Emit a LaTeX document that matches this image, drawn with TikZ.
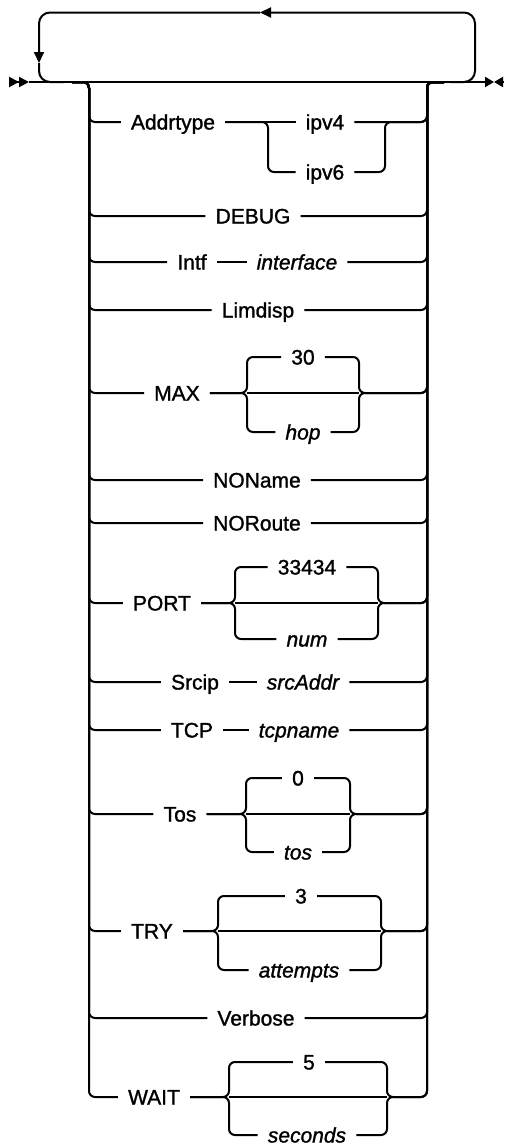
\documentclass[tikz,border=0pt]{standalone}
\usepackage{fontspec}
\setmainfont{Liberation Sans}[FakeBold=1.3]
\usepackage{tikz}
\usetikzlibrary{arrows.meta, positioning}

\begin{document}
\begin{tikzpicture}[
    x=1pt, y=-1pt,
    kw/.style={inner xsep=10pt, inner ysep=0pt, text height=15pt,
               text depth=0pt, font=\fontsize{21}{25}\selectfont},
    var/.style={kw, font=\fontsize{21}{25}\selectfont\itshape},
    line/.style={draw, line width=2pt, rounded corners=6pt},
    rail/.style={draw, line width=2.8pt},
    loopline/.style={line, rounded corners=11pt},
    tip/.style={-{Triangle[length=11pt, width=10pt]}},
    endtip/.style={-{Triangle[length=9pt, width=10pt]}},
    starttip/.style={-{Triangle[length=10pt, width=10pt]Triangle[length=10pt, width=10pt]}}
]
    \useasboundingbox (0,0) rectangle (505,1146);

    % main line with start and end marks
    \coordinate (start) at (9,82);
    \coordinate (s1)    at (29,82);
    \coordinate (eend)  at (494,82);
    \coordinate (eR)    at (503,82);
    \draw[line, starttip] (start) -- (s1);
    \draw[line, endtip] (s1) -- (eend);
    \draw[line, endtip] (eR) -- (eend);

    % repeat loop
    \coordinate (lpin)  at (450,82);
    \coordinate (lpR)   at (475,82);
    \coordinate (lptop) at (260,12.5);
    \coordinate (lptip) at (39,63);
    \coordinate (lpout) at (64,82);
    \draw[loopline, tip] (lpin) -- (lpR) |- (lptop);
    \draw[loopline, tip] (lptop) -| (lptip);
    \draw[loopline] (lptip) |- (lpout);

    % rails
    \coordinate (inL)   at (72,82);
    \coordinate (lrail) at (89,82);
    \coordinate (rrail) at (427,82);
    \coordinate (outR)  at (444,82);

    % Addrtype
    \node[kw] (addr) at (173,122) {Addrtype};
    \node[kw] (ipv4) at (325,122) {ipv4};
    \node[kw] (ipv6) at (325,172) {ipv6};
    \coordinate (addrL) at (268,122);
    \coordinate (addrR) at (385,122);
    \draw[line] (inL) -- (lrail) |- (addr);
    \draw[line] (addr) -- (ipv4);
    \draw[line] (addr) -- (addrL) |- (ipv6);
    \draw[line] (ipv4) -| (rrail) -- (outR);
    \draw[line] (ipv6) -| (addrR) -| (rrail) -- (outR);

    % DEBUG
    \node[kw] (debug) at (253,216) {DEBUG};
    \draw[line] (inL) -- (lrail) |- (debug);
    \draw[line] (debug) -| (rrail) -- (outR);

    % Intf
    \node[kw]  (intf)  at (192,262) {Intf};
    \node[var] (intfa) at (297,262) {interface};
    \draw[line] (inL) -- (lrail) |- (intf);
    \draw[line] (intf) -- (intfa);
    \draw[line] (intfa) -| (rrail) -- (outR);

    % Limdisp
    \node[kw] (limdisp) at (258,310) {Limdisp};
    \draw[line] (inL) -- (lrail) |- (limdisp);
    \draw[line] (limdisp) -| (rrail) -- (outR);

    % MAX
    \node[kw]  (max)  at (177,393) {MAX};
    \node[kw]  (maxd) at (303,357) {30};
    \node[var] (maxh) at (303,432) {hop};
    \coordinate (maxL) at (247,393);
    \coordinate (maxR) at (359,393);
    \draw[line] (inL) -- (lrail) |- (max);
    \draw[line] (max) -- (maxL) |- (maxd);
    \draw[line] (max) -- (maxL) |- (maxh);
    \draw[line] (maxL) -- (maxR);
    \draw[line] (maxd) -| (maxR) -| (rrail) -- (outR);
    \draw[line] (maxh) -| (maxR) -| (rrail) -- (outR);

    % NOName
    \node[kw] (noname) at (257,480) {NOName};
    \draw[line] (inL) -- (lrail) |- (noname);
    \draw[line] (noname) -| (rrail) -- (outR);

    % NORoute
    \node[kw] (noroute) at (257,523) {NORoute};
    \draw[line] (inL) -- (lrail) |- (noroute);
    \draw[line] (noroute) -| (rrail) -- (outR);

    % PORT
    \node[kw]  (port)  at (162,603) {PORT};
    \node[kw]  (portd) at (307,567) {33434};
    \node[var] (portn) at (307,639) {num};
    \coordinate (portL) at (235,603);
    \coordinate (portR) at (378,603);
    \draw[line] (inL) -- (lrail) |- (port);
    \draw[line] (port) -- (portL) |- (portd);
    \draw[line] (port) -- (portL) |- (portn);
    \draw[line] (portL) -- (portR);
    \draw[line] (portd) -| (portR) -| (rrail) -- (outR);
    \draw[line] (portn) -| (portR) -| (rrail) -- (outR);

    % Srcip
    \node[kw]  (srcip)   at (195,682) {Srcip};
    \node[var] (srcaddr) at (303,682) {srcAddr};
    \draw[line] (inL) -- (lrail) |- (srcip);
    \draw[line] (srcip) -- (srcaddr);
    \draw[line] (srcaddr) -| (rrail) -- (outR);

    % TCP
    \node[kw]  (tcp)     at (192,730) {TCP};
    \node[var] (tcpname) at (299,730) {tcpname};
    \draw[line] (inL) -- (lrail) |- (tcp);
    \draw[line] (tcp) -- (tcpname);
    \draw[line] (tcpname) -| (rrail) -- (outR);

    % Tos
    \node[kw]  (tos)  at (180,814) {Tos};
    \node[kw]  (tosd) at (298,778) {0};
    \node[var] (tosv) at (298,852) {tos};
    \coordinate (tosL) at (246,814);
    \coordinate (tosR) at (350,814);
    \draw[line] (inL) -- (lrail) |- (tos);
    \draw[line] (tos) -- (tosL) |- (tosd);
    \draw[line] (tos) -- (tosL) |- (tosv);
    \draw[line] (tosL) -- (tosR);
    \draw[line] (tosd) -| (tosR) -| (rrail) -- (outR);
    \draw[line] (tosv) -| (tosR) -| (rrail) -- (outR);

    % TRY
    \node[kw]  (try)  at (152,931) {TRY};
    \node[kw]  (tryd) at (301,896) {3};
    \node[var] (trya) at (299,970) {attempts};
    \coordinate (tryL) at (218,931);
    \coordinate (tryR) at (381,931);
    \draw[line] (inL) -- (lrail) |- (try);
    \draw[line] (try) -- (tryL) |- (tryd);
    \draw[line] (try) -- (tryL) |- (trya);
    \draw[line] (tryL) -- (tryR);
    \draw[line] (tryd) -| (tryR) -| (rrail) -- (outR);
    \draw[line] (trya) -| (tryR) -| (rrail) -- (outR);

    % Verbose
    \node[kw] (verbose) at (256,1018) {Verbose};
    \draw[line] (inL) -- (lrail) |- (verbose);
    \draw[line] (verbose) -| (rrail) -- (outR);

    % WAIT
    \node[kw]  (wait)  at (154,1097) {WAIT};
    \node[kw]  (waitd) at (309,1062) {5};
    \node[var] (waits) at (307,1135) {seconds};
    \coordinate (waitL) at (229,1097);
    \coordinate (waitR) at (387,1097);
    \draw[line] (inL) -- (lrail) |- (wait);
    \draw[line] (wait) -- (waitL) |- (waitd);
    \draw[line] (wait) -- (waitL) |- (waits);
    \draw[line] (waitL) -- (waitR);
    \draw[line] (waitd) -| (waitR) -| (rrail) -- (outR);
    \draw[line] (waits) -| (waitR) -| (rrail) -- (outR);

    % heavier rails
    \draw[rail] ([yshift=-8pt]lrail) -- ([yshift=8pt]lrail |- wait);
    \draw[rail] ([yshift=-8pt]rrail) -- ([yshift=8pt]rrail |- wait);

\end{tikzpicture}
\end{document}
